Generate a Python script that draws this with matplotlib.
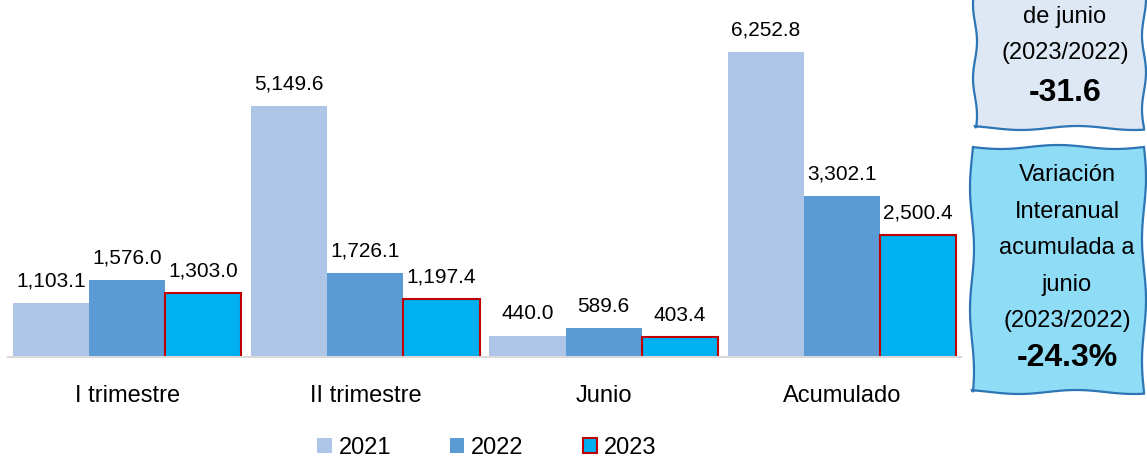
import numpy as np
import matplotlib.pyplot as plt
from matplotlib.patches import Polygon

plt.rcParams['font.family'] = ['Liberation Sans', 'DejaVu Sans']

# data
categorias = ["I trimestre", "II trimestre", "Junio", "Acumulado"]
anios = ["2021", "2022", "2023"]
v2021 = [1103.1, 5149.6, 440.0, 6252.8]
v2022 = [1576.0, 1726.1, 589.6, 3302.1]
v2023 = [1303.0, 1197.4, 403.4, 2500.4]

caja1_lineas = ["Variación", "Interanual", "de junio", "(2023/2022)"]
caja1_valor = "-31.6"
caja2_lineas = ["Variación", "Interanual", "acumulada a", "junio", "(2023/2022)"]
caja2_valor = "-24.3%"

colores = ["#adc5e6", "#5b9bd5", "#00b0f0"]
bordes = ["none", "none", "#c00000"]


def caja_ondulada(ax, x0, x1, y0, y1, color):
    '''polygon with slightly wavy edges, coords in pixels'''
    t = np.linspace(0, 1, 60)
    amp = 2.0
    top_x = x0 + (x1 - x0) * t
    top_y = y0 + amp * np.sin(t * 2 * np.pi * 1.5)
    right_y = y0 + (y1 - y0) * t
    right_x = x1 + amp * np.sin(t * 2 * np.pi * 2)
    bot_x = x1 - (x1 - x0) * t
    bot_y = y1 + amp * np.sin(t * 2 * np.pi * 1.5 + 1)
    left_y = y1 - (y1 - y0) * t
    left_x = x0 + amp * np.sin(t * 2 * np.pi * 2 + 0.5)
    pts = np.column_stack([np.concatenate([top_x, right_x, bot_x, left_x]),
                           np.concatenate([top_y, right_y, bot_y, left_y])])
    ax.add_patch(Polygon(pts, closed=True, facecolor=color, edgecolor="#2e75b6", lw=1.6))


fig = plt.figure(figsize=(11.47, 4.57), dpi=100)
ax = fig.add_axes([8 / 1147, 100 / 457, 953 / 1147, 357 / 457])

x = np.arange(len(categorias))
w = 0.32
series = [v2021, v2022, v2023]
handles = []
for i, vals in enumerate(series):
    pos = x + (i - 1) * w
    lw = 1.5 if bordes[i] != "none" else 0
    b = ax.bar(pos, vals, width=w, color=colores[i], edgecolor=bordes[i], linewidth=lw, label=anios[i])
    handles.append(b)
    for px, v in zip(pos, vals):
        ax.annotate(f"{v:,.1f}", (px, v), xytext=(0, 9), textcoords="offset points",
                    ha="center", va="bottom", fontsize=15)

ax.set_xlim(-0.5, 3.5)
ax.set_ylim(0, 7317)
ax.set_yticks([])
ax.set_xticks(x)
ax.set_xticklabels(categorias, fontsize=17)
ax.tick_params(axis="x", length=0, pad=20)
for s in ["top", "right", "left"]:
    ax.spines[s].set_visible(False)
ax.spines["bottom"].set_color("#d9d9d9")
ax.spines["bottom"].set_linewidth(1.5)

fig.legend(handles=handles, labels=anios, loc="lower center", bbox_to_anchor=(487 / 1147, -0.05),
           ncol=3, frameon=False, fontsize=17, handlelength=0.6, handleheight=0.6,
           columnspacing=2.5, handletextpad=0.3)

# overlay in pixel coordinates for the side boxes
ov = fig.add_axes([0, 0, 1, 1])
ov.set_xlim(0, 1147)
ov.set_ylim(457, 0)
ov.axis("off")

caja_ondulada(ov, 975, 1144, -20, 128, "#dde8f4")
caja_ondulada(ov, 972, 1144, 147, 392, "#8fdcf6")

cx = 1065
for j, txt in enumerate(caja1_lineas):
    ov.text(cx, 17 + (j - 2) * 36, txt, ha="center", va="center", fontsize=17)
ov.text(cx, 93, caja1_valor, ha="center", va="center", fontsize=23, fontweight="bold")

for j, txt in enumerate(caja2_lineas):
    ov.text(cx + 2, 175 + j * 36.5, txt, ha="center", va="center", fontsize=17)
ov.text(cx + 2, 358, caja2_valor, ha="center", va="center", fontsize=23, fontweight="bold")

fig.savefig("out.png", dpi=100)
